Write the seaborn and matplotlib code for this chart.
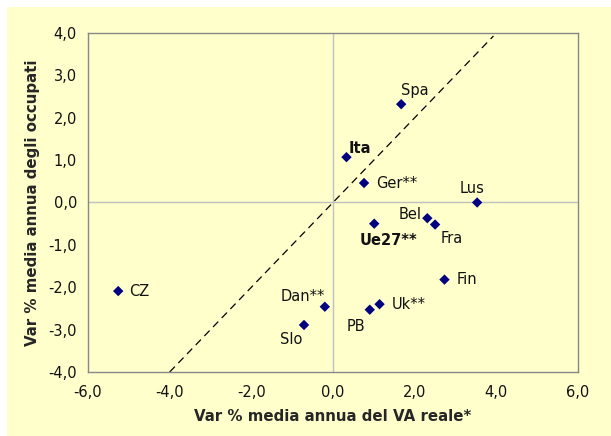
import numpy as np
import pandas as pd
import matplotlib
matplotlib.use("Agg")
import matplotlib.pyplot as plt
import seaborn as sns
from matplotlib.patches import Rectangle
from matplotlib.ticker import FuncFormatter

# data
paesi = ['Spa', 'Ita', 'Ger**', 'Lus', 'Bel', 'Fra', 'Ue27**', 'Fin', 'CZ', 'Dan**', 'PB', 'Uk**', 'Slo']
va_reale = [1.67, 0.33, 0.76, 3.53, 2.31, 2.50, 1.01, 2.73, -5.26, -0.20, 0.90, 1.14, -0.71]
occupati = [2.32, 1.07, 0.46, 0.00, -0.37, -0.52, -0.50, -1.82, -2.09, -2.46, -2.53, -2.40, -2.89]
grassetto = ['Ita', 'Ue27**']

# label placement (pixels offset, alignment)
label_pos = {
    'Spa': (0, 14, 'left'),
    'Ita': (2, 9, 'left'),
    'Ger**': (12, 0, 'left'),
    'Lus': (-5, 14, 'center'),
    'Bel': (-6, 4, 'right'),
    'Fra': (6, -14, 'left'),
    'Ue27**': (-15, -17, 'left'),
    'Fin': (12, 0, 'left'),
    'CZ': (11, 0, 'left'),
    'Dan**': (0, 10, 'right'),
    'PB': (-4, -17, 'right'),
    'Uk**': (12, 0, 'left'),
    'Slo': (-2, -15, 'right'),
}

df = pd.DataFrame({'paese': paesi, 'va': va_reale, 'occ': occupati})

sns.set_style('white')
plt.rcParams['font.family'] = ['DejaVu Sans']
bg = '#ffffcc'

fig = plt.figure(figsize=(6.11, 4.36), dpi=100, facecolor='white')
fig.patches.append(Rectangle((7 / 611, 0), 1, (436 - 7) / 436, transform=fig.transFigure,
                             facecolor=bg, edgecolor='none', zorder=-10))
ax = fig.add_axes([88 / 611, (436 - 372) / 436, 490 / 611, 339 / 436])
ax.set_facecolor(bg)

ax.axhline(0, color='#c0c0c0', lw=1, zorder=1)
ax.axvline(0, color='#c0c0c0', lw=1, zorder=1)
ax.plot([-4, 3.93], [-4, 3.93], color='black', lw=0.9, ls=(0, (6, 4)), zorder=2)

sns.scatterplot(data=df, x='va', y='occ', marker='D', s=28, color='#000080',
                edgecolor='none', ax=ax, zorder=3)

for _, r in df.iterrows():
    dx, dy, ha = label_pos[r['paese']]
    ax.annotate(r['paese'], (r['va'], r['occ']), xytext=(dx, dy), textcoords='offset pixels',
                ha=ha, va='center', fontsize=10.5, color='#111111',
                fontweight='bold' if r['paese'] in grassetto else 'normal')

ax.set_xlim(-6, 6)
ax.set_ylim(-4, 4)
ax.set_xticks(np.arange(-6, 7, 2))
ax.set_yticks(np.arange(-4, 5, 1))
fmt = FuncFormatter(lambda v, p: f'{v:.1f}'.replace('.', ','))
ax.xaxis.set_major_formatter(fmt)
ax.yaxis.set_major_formatter(fmt)
ax.tick_params(axis='both', length=0, labelsize=10.5, colors='#111111')
ax.tick_params(axis='x', pad=9)
ax.tick_params(axis='y', pad=8)

for s in ax.spines.values():
    s.set_color('#888888')
    s.set_linewidth(1)

ax.set_xlabel('Var % media annua del VA reale*', fontsize=10.8, fontweight='bold', labelpad=7)
ax.set_ylabel('Var % media annua degli occupati', fontsize=10.8, fontweight='bold', labelpad=6)

fig.savefig('out.png', dpi=100, facecolor=fig.get_facecolor())
